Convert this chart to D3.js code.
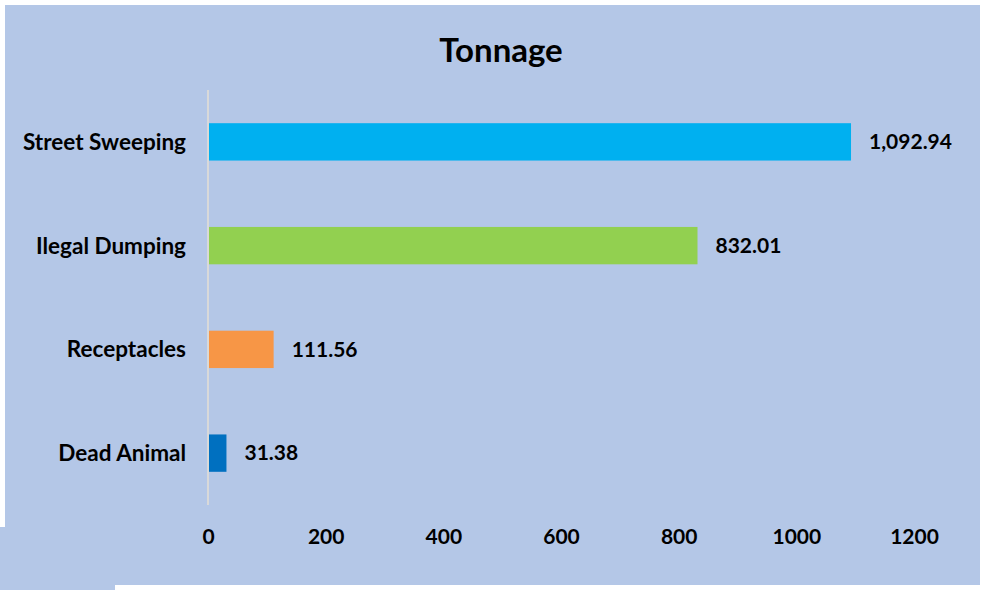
<!DOCTYPE html>
<html>
<head>
<meta charset="utf-8">
<script src="https://cdn.jsdelivr.net/npm/d3@7"></script>
<style>
  body { margin: 0; background: #ffffff; }
  text { font-family: Lato, "Open Sans", sans-serif; font-weight: bold; fill: #000; }
</style>
</head>
<body>
<div id="chart"></div>
<script>
const categories = ["Street Sweeping", "Ilegal Dumping", "Receptacles", "Dead Animal"];
const tonnage = [1092.94, 832.01, 111.56, 31.38];
const barColors = ["#00b0f0", "#92d050", "#f79646", "#0070c0"];
const xTicks = [0, 200, 400, 600, 800, 1000, 1200];

const width = 986, height = 590;
const margin = {top: 90, right: 72, bottom: 85, left: 208};

const svg = d3.select("#chart")
              .append("svg")
              .attr("width", width)
              .attr("height", height);

// background panel (plus the small offset patch at the bottom left)
svg.append("rect")
   .attr("x", 5).attr("y", 5)
   .attr("width", 975).attr("height", 580)
   .attr("fill", "#b4c7e7");
svg.append("rect")
   .attr("x", 0).attr("y", 527)
   .attr("width", 115).attr("height", 63)
   .attr("fill", "#b4c7e7");

const x = d3.scaleLinear()
            .domain([0, 1200])
            .range([margin.left, 914]);

const y = d3.scaleBand()
            .domain(categories)
            .range([margin.top, height - margin.bottom])
            .paddingInner(0.64)
            .paddingOuter(0.32);

svg.append("text")
   .attr("x", 501)
   .attr("y", 62)
   .attr("text-anchor", "middle")
   .style("font-size", "33px")
   .text("Tonnage");

// x axis tick labels
svg.append("g")
   .attr("transform", "translate(0," + 537 + ")")
   .call(d3.axisBottom(x).tickValues(xTicks).tickFormat(d3.format("d")).tickSize(0).tickPadding(0))
   .call(g => g.select(".domain").remove())
   .selectAll("text")
   .style("font-size", "21px")
   .attr("dy", "0.33em");

// bars
svg.selectAll("rect.bar")
   .data(tonnage)
   .enter()
   .append("rect")
   .attr("class", "bar")
   .attr("x", x(0))
   .attr("y", function (d, i) {
       return y(categories[i]);
   })
   .attr("width", function (d) {
       return x(d) - x(0);
   })
   .attr("height", y.bandwidth())
   .attr("fill", function (d, i) {
       return barColors[i];
   });

// category axis
svg.append("line")
   .attr("x1", x(0)).attr("x2", x(0))
   .attr("y1", margin.top).attr("y2", height - margin.bottom)
   .attr("stroke", "#d9d9d9")
   .attr("stroke-width", 2);

svg.selectAll("text.cat")
   .data(categories)
   .enter()
   .append("text")
   .attr("class", "cat")
   .attr("x", 186)
   .attr("y", function (d) {
       return y(d) + y.bandwidth() / 2;
   })
   .attr("dy", "0.35em")
   .attr("text-anchor", "end")
   .style("font-size", "22.5px")
   .text(function (d) { return d; });

// value labels
const fmt = d3.format(",.2f");
svg.selectAll("text.val")
   .data(tonnage)
   .enter()
   .append("text")
   .attr("class", "val")
   .attr("x", function (d) {
       return x(d) + 18;
   })
   .attr("y", function (d, i) {
       return y(categories[i]) + y.bandwidth() / 2;
   })
   .attr("dy", "0.35em")
   .style("font-size", "21px")
   .text(function (d) { return fmt(d); });
</script>
</body>
</html>
